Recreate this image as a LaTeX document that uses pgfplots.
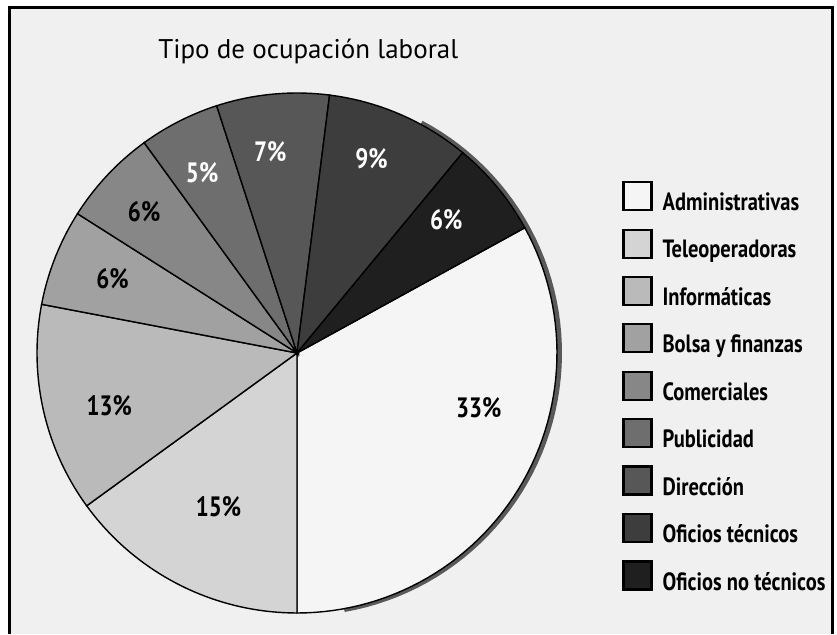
\documentclass[border=0pt]{standalone}
\usepackage{pgfplots}
\pgfplotsset{compat=1.18}
\usepackage{fontspec}
\setmainfont{PT Sans}
\newfontfamily\cond[FakeStretch=0.82]{PT Sans}
\begin{document}
\begin{tikzpicture}
\fill[black!6] (4.5pt,0) rectangle (416pt,313.5pt);
\node[anchor=base west, inner sep=0pt, font=\fontsize{13.5}{13.5}\selectfont] at (79pt,287.5pt) {Tipo de ocupación laboral};
\begin{axis}[
  at={(148.5pt,140.5pt)}, anchor=origin,
  x=130pt, y=130pt, xmin=-1, xmax=1, ymin=-1, ymax=1,
  hide axis, clip=false, data cs=polar,
  legend cell align=left,
  legend style={at={(1.1135,0.839)}, anchor=north west, draw=none, fill=none,
    font=\cond\bfseries\fontsize{12.5}{12.5}\selectfont, row sep=5.45pt,
    /tikz/every odd column/.append style={column sep=3pt}},
  legend image code/.code={\draw[#1,draw=black,line width=1.1pt] (0pt,-3.5pt) rectangle (14pt,10.5pt);},
]
% shadow on the right rim
\addplot[forget plot, domain=-80:62, samples=60, draw=black!65, line width=3pt, xshift=1pt] {1};
% slices (percent -> angles): 33,15,13,6,6,5,7,9,6
\addplot[draw=black, line width=0.7pt, fill=black!4,  domain=-90:28.8,    samples=60] {1} -- (axis cs:0,0) -- cycle;
\addlegendentry{Administrativas}
\addplot[draw=black, line width=0.7pt, fill=black!17, domain=-144:-90,    samples=40] {1} -- (axis cs:0,0) -- cycle;
\addlegendentry{Teleoperadoras}
\addplot[draw=black, line width=0.7pt, fill=black!27, domain=169.2:216,   samples=40] {1} -- (axis cs:0,0) -- cycle;
\addlegendentry{Informáticas}
\addplot[draw=black, line width=0.7pt, fill=black!37, domain=147.6:169.2, samples=20] {1} -- (axis cs:0,0) -- cycle;
\addlegendentry{Bolsa y finanzas}
\addplot[draw=black, line width=0.7pt, fill=black!47, domain=126:147.6,   samples=20] {1} -- (axis cs:0,0) -- cycle;
\addlegendentry{Comerciales}
\addplot[draw=black, line width=0.7pt, fill=black!57, domain=108:126,     samples=20] {1} -- (axis cs:0,0) -- cycle;
\addlegendentry{Publicidad}
\addplot[draw=black, line width=0.7pt, fill=black!66, domain=82.8:108,    samples=20] {1} -- (axis cs:0,0) -- cycle;
\addlegendentry{Dirección}
\addplot[draw=black, line width=0.7pt, fill=black!76, domain=50.4:82.8,   samples=25] {1} -- (axis cs:0,0) -- cycle;
\addlegendentry{Oficios técnicos}
\addplot[draw=black, line width=0.7pt, fill=black!88, domain=28.8:50.4,   samples=20] {1} -- (axis cs:0,0) -- cycle;
\addlegendentry{Oficios no técnicos}
% labels
\addplot[forget plot, only marks, mark=none, nodes near coords, point meta=explicit symbolic,
  every node near coord/.append style={anchor=center, text=black, font=\cond\bfseries\fontsize{14}{14}\selectfont}]
  coordinates {(-16.8,0.73) [33\%] (-117,0.665) [15\%] (195.7,0.75) [13\%] (158,0.765) [6\%] (137.3,0.80) [6\%]};
\addplot[forget plot, only marks, mark=none, nodes near coords, point meta=explicit symbolic,
  every node near coord/.append style={anchor=center, text=white, font=\cond\bfseries\fontsize{14}{14}\selectfont}]
  coordinates {(117.7,0.785) [5\%] (97.6,0.78) [7\%] (69,0.80) [9\%] (41.8,0.77) [6\%]};
\end{axis}
\draw[line width=1.5pt] (4.5pt,0) -- (4.5pt,313.5pt) -- (416pt,313.5pt) -- (416pt,0);
\pgfresetboundingbox
\path (0,0) rectangle (418.5pt,317pt);
\end{tikzpicture}
\end{document}
